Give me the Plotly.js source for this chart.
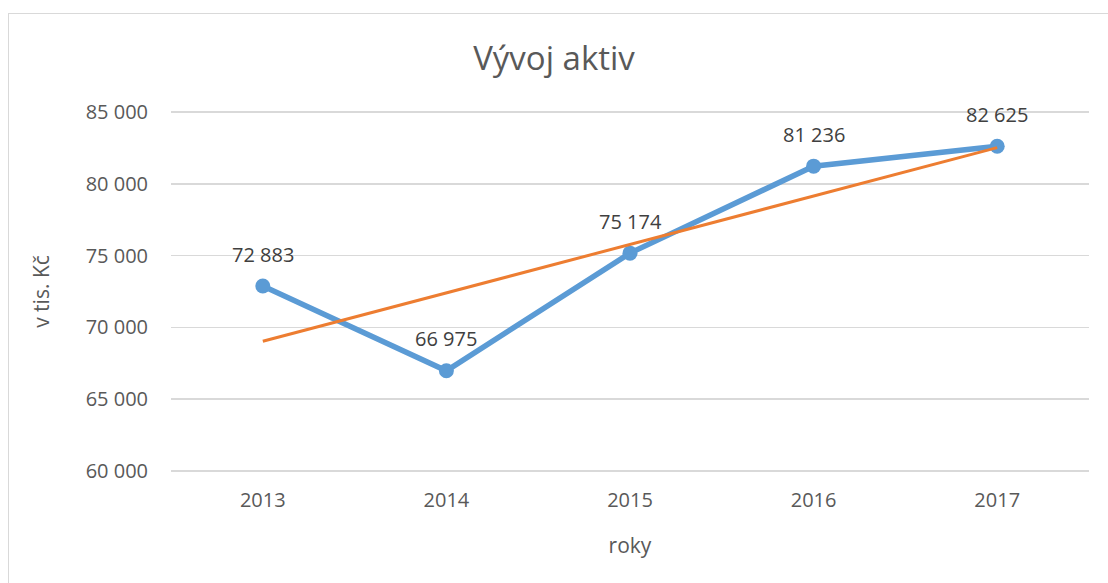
<!DOCTYPE html>
<html>
<head>
<meta charset="utf-8">
<script src="https://cdn.plot.ly/plotly-3.0.1.min.js"></script>
<style>
html,body{margin:0;padding:0;background:#fff;overflow:hidden;}
#chart{width:1108px;height:583px;position:relative;}
#frame{position:absolute;left:8px;top:13px;width:1300px;height:800px;border:1px solid #d9d9d9;pointer-events:none;}
</style>
</head>
<body>
<div id="chart"></div>
<div id="frame"></div>
<script>
const years = ['2013', '2014', '2015', '2016', '2017'];
const assets = [72883, 66975, 75174, 81236, 82625];
const trendYears = ['2013', '2017'];
const trendValues = [69030, 82528];
const yTicks = [60000, 65000, 70000, 75000, 80000, 85000];

function fmt(v) {
  return String(v).replace(/\B(?=(\d{3})+(?!\d))/g, ' ');
}

const FONT = 'Open Sans, Noto Sans, sans-serif';
const TXT = '#595959';

const traces = [
  {
    x: years, y: assets, type: 'scatter', mode: 'lines+markers',
    line: {color: '#5B9BD5', width: 5.5},
    marker: {color: '#5B9BD5', size: 15},
    cliponaxis: false, hoverinfo: 'none', showlegend: false
  },
  {
    x: trendYears, y: trendValues, type: 'scatter', mode: 'lines',
    line: {color: '#ED7D31', width: 3},
    hoverinfo: 'none', showlegend: false
  }
];

const annotations = years.map((yr, i) => ({
  x: years.indexOf(yr), y: assets[i], xref: 'x', yref: 'y',
  text: fmt(assets[i]), showarrow: false,
  yshift: 32, xanchor: 'center', yanchor: 'middle',
  font: {family: FONT, size: 20, color: '#404040'}
}));

const layout = {
  width: 1108, height: 583,
  margin: {l: 171, r: 19, t: 111, b: 111},
  paper_bgcolor: '#ffffff', plot_bgcolor: '#ffffff',
  font: {family: FONT, color: TXT, size: 20},
  title: {text: 'Vývoj aktiv', x: 0.5, xanchor: 'center', y: 1 - 58/583, yanchor: 'middle',
          font: {family: FONT, size: 33, color: TXT}},
  annotations: annotations,
  xaxis: {
    type: 'category', range: [-0.5, 4.5],
    showgrid: false, zeroline: false, showline: false, ticks: '',
    ticklabelstandoff: 14,
    tickfont: {family: FONT, size: 20, color: TXT},
    title: {text: 'roky', font: {family: FONT, size: 21, color: TXT}, standoff: 26}
  },
  yaxis: {
    range: [59920, 85080], tickvals: yTicks, ticktext: yTicks.map(fmt),
    showgrid: true, gridcolor: '#d9d9d9', gridwidth: 1.5,
    zeroline: false, showline: false, ticks: '', ticklabelstandoff: 22,
    tickfont: {family: FONT, size: 20, color: TXT},
    title: {text: 'v tis. Kč', font: {family: FONT, size: 21, color: TXT}, standoff: 30}
  }
};

Plotly.newPlot('chart', traces, layout, {displayModeBar: false, staticPlot: true});
</script>
</body>
</html>
